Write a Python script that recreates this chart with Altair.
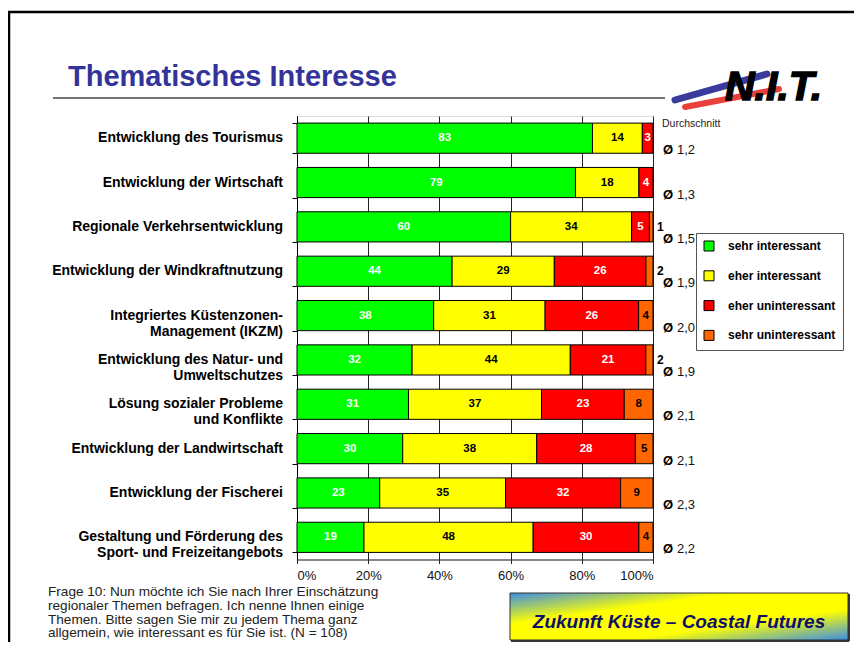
import altair as alt
import pandas as pd

categories = [
    "Entwicklung des Tourismus",
    "Entwicklung der Wirtschaft",
    "Regionale Verkehrsentwicklung",
    "Entwicklung der Windkraftnutzung",
    "Integriertes Küstenzonen-|Management (IKZM)",
    "Entwicklung des Natur- und|Umweltschutzes",
    "Lösung sozialer Probleme|und Konflikte",
    "Entwicklung der Landwirtschaft",
    "Entwicklung der Fischerei",
    "Gestaltung und Förderung des|Sport- und Freizeitangebots",
]
series = ["sehr interessant", "eher interessant", "eher uninteressant", "sehr uninteressant"]
sehr_int = [83, 79, 60, 44, 38, 32, 31, 30, 23, 19]
eher_int = [14, 18, 34, 29, 31, 44, 37, 38, 35, 48]
eher_unint = [3, 4, 5, 26, 26, 21, 23, 28, 32, 30]
sehr_unint = [0, 0, 1, 2, 4, 2, 8, 5, 9, 4]
averages = ["1,2", "1,3", "1,5", "1,9", "2,0", "1,9", "2,1", "2,1", "2,3", "2,2"]
colors = ["#00FF00", "#FFFF00", "#FF0000", "#FF6600"]

question = ("Frage 10: Nun möchte ich Sie nach Ihrer Einschätzung|"
            "regionaler Themen befragen. Ich nenne Ihnen einige|"
            "Themen. Bitte sagen Sie mir zu jedem Thema ganz|"
            "allgemein, wie interessant es für Sie ist. (N = 108)")

rows = []
for i, cat in enumerate(categories):
    for j, vals in enumerate([sehr_int, eher_int, eher_unint, sehr_unint]):
        rows.append({"cat": cat, "series": series[j], "order": j, "value": vals[i]})
df = pd.DataFrame(rows)
df_cat = pd.DataFrame({"cat": categories, "avg": averages})
dummy = pd.DataFrame({"d": [0]})

FONT = "Liberation Sans"

y_scale = alt.Scale(domain=categories, paddingInner=0.32, paddingOuter=0.16)
y_axis = alt.Axis(labels=False, title=None, tickBand="extent", tickSize=5,
                  domainColor="black", tickColor="black", grid=False)
x_scale = alt.Scale(domain=[0, 1], nice=False)
x_axis = alt.Axis(values=[0, 0.2, 0.4, 0.6, 0.8, 1], format=".0%", title=None,
                  grid=True, gridColor="#222", gridOpacity=1, tickColor="#222",
                  domainColor="#222", labelFontSize=13, labelColor="#111",
                  labelPadding=6, tickSize=4, labelFont=FONT)

Y = alt.Y("cat:N", sort=categories, scale=y_scale, axis=y_axis)

base = alt.Chart(df).transform_filter("datum.value > 0").transform_stack(
    stack="value", groupby=["cat"], as_=["v0", "v1"], offset="normalize",
    sort=[alt.SortField("order", "ascending")]
).transform_calculate(mid="(datum.v0 + datum.v1) / 2")

bars = base.mark_bar(stroke="black", strokeWidth=1).encode(
    x=alt.X("v0:Q", scale=x_scale, axis=x_axis),
    x2="v1:Q",
    y=Y,
    color=alt.Color("series:N", scale=alt.Scale(domain=series, range=colors),
                    legend=alt.Legend(title=None, orient="none", legendX=399, legendY=117,
                                      padding=7, rowPadding=15.8, symbolType="square",
                                      symbolSize=100, symbolStrokeColor="black",
                                      symbolStrokeWidth=1, labelFontSize=12,
                                      labelFontWeight="bold", labelOffset=13,
                                      strokeColor="#555", fillColor="white",
                                      labelColor="black", labelFont=FONT)),
)

lab_white = base.transform_filter("datum.value >= 3 && (datum.order == 0 || datum.order == 2)").mark_text(
    fontSize=11.5, fontWeight="bold", color="white", font=FONT
).encode(x=alt.X("mid:Q", scale=x_scale, axis=x_axis), y=Y, text="value:Q")

lab_black = base.transform_filter("datum.value >= 3 && (datum.order == 1 || datum.order == 3)").mark_text(
    fontSize=11.5, fontWeight="bold", color="black", font=FONT
).encode(x=alt.X("mid:Q", scale=x_scale, axis=x_axis), y=Y, text="value:Q")

lab_out = base.transform_filter("datum.value > 0 && datum.value < 3").mark_text(
    fontSize=12, fontWeight="bold", color="black", align="left", font=FONT
).encode(x=alt.value(360), y=Y, text="value:Q")

cat_labels = alt.Chart(df_cat).mark_text(
    align="right", baseline="middle", fontSize=14, fontWeight="bold", lineBreak="|",
    lineHeight=16, color="black", font=FONT
).encode(x=alt.value(-14), y=Y, text="cat:N")

avg_sym = alt.Chart(df_cat).mark_text(
    align="left", fontSize=13, fontWeight="bold", dy=12, text="Ø", color="black", font=FONT
).encode(x=alt.value(366), y=Y)
avg_num = alt.Chart(df_cat).mark_text(
    align="left", fontSize=13, dy=12, color="#111", font=FONT
).encode(x=alt.value(380), y=Y, text="avg:N")

def rule(x1, x2, y1, y2, color, width, cap="butt"):
    return alt.Chart(dummy).mark_rule(color=color, strokeWidth=width, strokeCap=cap).encode(
        x=alt.value(x1), x2=alt.value(x2), y=alt.value(y1), y2=alt.value(y2))

def label(txt, x, y, **kw):
    return alt.Chart(dummy).mark_text(text=txt, font=kw.pop("font", FONT), **kw).encode(
        x=alt.value(x), y=alt.value(y))

frame_left = rule(-288, -288, -104, 540, "black", 2.5)
frame_top = rule(-289, 560, -104, -104, "black", 2.5)
title = label("Thematisches Interesse", -229, -30, align="left", baseline="alphabetic",
              fontSize=29, fontWeight="bold", color="#333399")
title_rule = rule(-244, 368, -18, -18, "#444", 1.5)
swoosh_blue = rule(378, 470, -16, -42, "#3B3B9E", 7, "round")
swoosh_red = rule(388, 482, -9, -27, "#E8413C", 6, "round")
logo = label("N.I.T.", 428, -16, align="left", baseline="alphabetic", fontSize=41,
             fontWeight="bold", fontStyle="italic", color="black", stroke="black",
             strokeWidth=1.5)
durch = label("Durchschnitt", 365, 8, align="left", baseline="middle", fontSize=10.5, color="#222")
quest = label(question, -249, 469, align="left", baseline="top", fontSize=13.6,
              lineBreak="|", lineHeight=13.8, color="#222")

box = alt.Chart(dummy).mark_rect(
    fill=alt.Gradient(gradient="linear", x1=0, y1=0, x2=1, y2=1,
                      stops=[alt.GradientStop(color="#3A8EE6", offset=0),
                             alt.GradientStop(color="#FFFF00", offset=0.33),
                             alt.GradientStop(color="#FFFF00", offset=0.67),
                             alt.GradientStop(color="#3A8EE6", offset=1)]),
    stroke="#333", strokeWidth=1
).encode(x=alt.value(213), x2=alt.value(551), y=alt.value(477), y2=alt.value(524))
box_shadow_b = rule(214, 552, 525, 525, "#333", 2)
box_shadow_r = rule(552, 552, 478, 525, "#333", 2)
box_text = label("Zukunft Küste – Coastal Futures", 382, 512, align="center", baseline="alphabetic",
                 fontSize=19, fontWeight="bold", fontStyle="italic", color="#10106B")

chart = alt.layer(
    frame_left, frame_top, title, title_rule, swoosh_blue, swoosh_red, logo,
    bars, lab_white, lab_black, lab_out, cat_labels, avg_sym, avg_num, durch, quest,
    box, box_shadow_b, box_shadow_r, box_text
).properties(
    width=356, height=443.5,
    padding={"left": 289, "top": 108, "right": 201, "bottom": 82},
    autosize="none", background="white"
).configure_view(stroke=None).configure(font=FONT)

chart.save("out.html", embed_options={"renderer": "svg", "actions": False})
